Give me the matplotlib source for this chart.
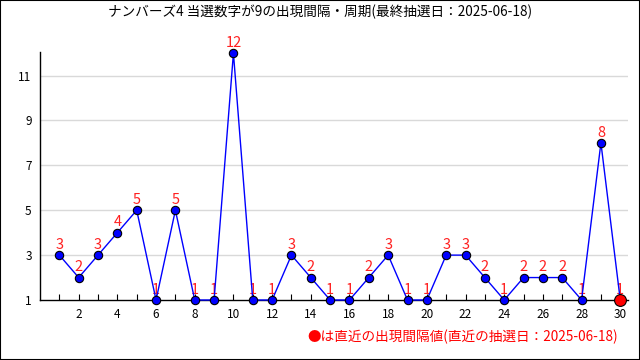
import matplotlib as mpl
mpl.use('Agg')
import matplotlib.pyplot as plt
from matplotlib.patches import Rectangle

plt.rcParams['font.family'] = ['Noto Sans CJK JP', 'DejaVu Sans']

kaisu = list(range(1, 31))
kankaku = [3, 2, 3, 4, 5, 1, 5, 1, 1, 12, 1, 1, 3, 2, 1, 1, 2, 3, 1, 1,
           3, 3, 2, 1, 2, 2, 2, 1, 8, 1]
yticks = [1, 3, 5, 7, 9, 11]
xticks = list(range(2, 31, 2))
title = 'ナンバーズ4 当選数字が9の出現間隔・周期(最終抽選日：2025-06-18)'
note = '●は直近の出現間隔値(直近の抽選日：2025-06-18)'

fig = plt.figure(figsize=(6.4, 3.6), dpi=100)
ax = fig.add_axes([40/640, 60/360, 588/640, 248/360])

ax.plot(kaisu, kankaku, color='#0000ff', lw=1, zorder=3, clip_on=False)
ax.plot(kaisu[:-1], kankaku[:-1], 'o', ms=6, mfc='#0000ff', mec='#000000',
        mew=0.8, zorder=4, clip_on=False)
ax.plot(kaisu[-1:], kankaku[-1:], 'o', ms=8.5, mfc='#ff0000', mec='#000000',
        mew=0.8, zorder=4, clip_on=False)

for x, y in zip(kaisu, kankaku):
    ax.annotate(str(y), (x, y), xytext=(0, 4.5), textcoords='offset points',
                ha='center', va='baseline', color='#ff2020', fontsize=10.5,
                zorder=2, annotation_clip=False)

ax.set_xlim(0, 30.4)
ax.set_ylim(1, 12.05)
ax.set_yticks(yticks)
ax.set_xticks(xticks)
ax.set_xticks(kaisu, minor=True)
ax.tick_params(axis='y', length=0, labelsize=8.5, pad=6)
ax.tick_params(axis='x', which='both', direction='in', length=4, width=0.8,
               labelsize=8.5, pad=6)
for t in yticks[1:]:
    ax.axhline(t, color='#d9d9d9', lw=1, zorder=0)
for s in ['top', 'right']:
    ax.spines[s].set_visible(False)
ax.spines['left'].set_linewidth(1)
ax.spines['bottom'].set_linewidth(1)

fig.text(0.5, 1 - 12/360, title, ha='center', va='center', fontsize=9.8)
fig.text(618/640, 1 - 337/360, note, ha='right', va='center', fontsize=9.8,
         color='#ff0000')

fig.add_artist(Rectangle((0, 0), 1, 1, transform=fig.transFigure,
                         fill=False, ec='#000000', lw=1.5))

fig.savefig('out.png', dpi=100)
